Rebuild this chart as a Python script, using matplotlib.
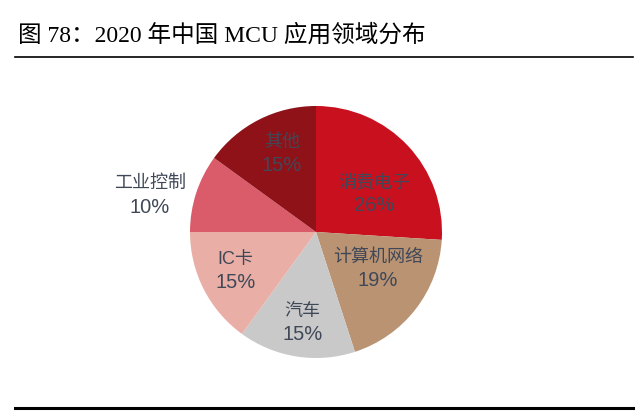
import matplotlib
matplotlib.use('Agg')
from matplotlib import pyplot as plt
from matplotlib.lines import Line2D

## Data
title = '图 78：2020 年中国 MCU 应用领域分布'
names = ['消费电子', '计算机网络', '汽车', 'IC卡', '工业控制', '其他']
shares = [26, 19, 15, 15, 10, 15]
colors = ['#C8101E', '#B99372', '#C9C9C9', '#E9AFA6', '#DA5B6A', '#8E1218']

# label offsets in pie units (x, y of the name line)
label_pos = [(0.46, 0.40), (0.49, -0.19), (-0.11, -0.62),
             (-0.64, -0.21), (-1.32, 0.39), (-0.27, 0.72)]
line_gap = 0.185

W, H = 640, 414
fig = plt.figure(figsize=(W / 100, H / 100), dpi=100)

## Pie axes: center (316, 233) px, radius 126 px
cx, cy, r = 316, 233, 126
ax = fig.add_axes([(cx - r) / W, (H - cy - r) / H, 2 * r / W, 2 * r / H])
ax.pie(shares, colors=colors, startangle=90, counterclock=False,
       radius=1, wedgeprops=dict(linewidth=0))
ax.set_xlim(-1, 1)
ax.set_ylim(-1, 1)
ax.set_aspect('equal')
ax.axis('off')

lab_font = ['Liberation Sans', 'Noto Sans CJK SC']
for name, v, (x, y) in zip(names, shares, label_pos):
    ax.text(x, y, name, ha='center', va='center', fontsize=13,
            color='#404858', family=lab_font, clip_on=False)
    ax.text(x, y - line_gap, '%d%%' % v, ha='center', va='center',
            fontsize=14.5, color='#404858', family=lab_font, clip_on=False)

## Title and rules
fig.text(18 / W, 1 - 35 / H, title, ha='left', va='center', fontsize=17,
         color='black', family=['Liberation Serif', 'Noto Sans CJK SC'])
fig.add_artist(Line2D([15 / W, 633 / W], [1 - 58 / H, 1 - 58 / H],
                      color='black', linewidth=1.2))
fig.add_artist(Line2D([15 / W, 633 / W], [1 - 409 / H, 1 - 409 / H],
                      color='black', linewidth=2.2))

fig.savefig('out.png', dpi=100)
